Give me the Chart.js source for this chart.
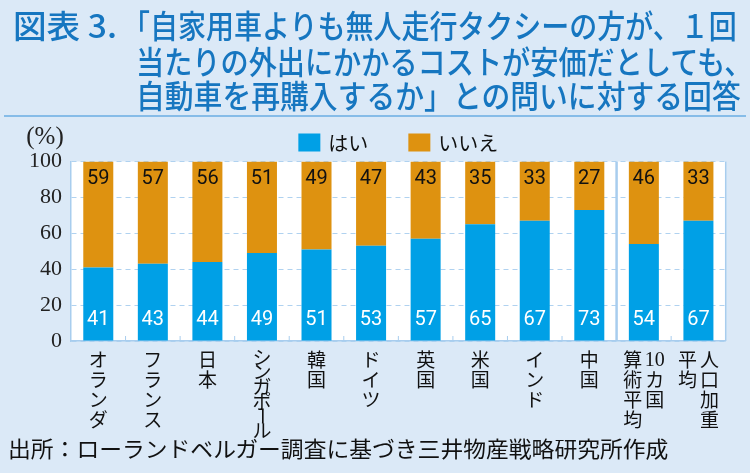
<!DOCTYPE html>
<html>
<head>
<meta charset="utf-8">
<script src="https://cdn.jsdelivr.net/npm/chart.js@4.4.0/dist/chart.umd.min.js"></script>
<style>
html, body { margin: 0; padding: 0; }
body { width: 750px; height: 473px; background: #dbe9f7; position: relative; overflow: hidden; font-family: "Noto Sans CJK JP", sans-serif; }
#wrap { position: absolute; left: 0; top: 0; width: 750px; height: 473px; }
.tl { position: absolute; color: #1676c0; font-size: 32px; line-height: 32px; font-weight: 500; white-space: nowrap; transform-origin: 0 0; }
#rule { position: absolute; left: 4px; top: 115px; width: 742px; height: 2px; background: #86bce8; }
#src { position: absolute; left: 8px; top: 436px; font-size: 22px; line-height: 22px; color: #111; white-space: nowrap; transform-origin: 0 0; }
</style>
</head>
<body>
<div id="wrap"><canvas id="chart"></canvas></div>
<div class="tl" data-w="104" style="left:13px;top:8px">図表 3.</div>
<div class="tl" data-w="615" style="left:122px;top:8px">「自家用車よりも無人走行タクシーの方が、１回</div>
<div class="tl" data-w="616" style="left:136px;top:44px">当たりの外出にかかるコストが安価だとしても、</div>
<div class="tl" data-w="605" style="left:136px;top:78px">自動車を再購入するか」との問いに対する回答</div>
<div id="rule"></div>
<div id="src" data-w="660">出所：ローランドベルガー調査に基づき三井物産戦略研究所作成</div>
<script>
// 横に詰めて幅を合わせる
document.querySelectorAll('[data-w]').forEach(function (el) {
    let w = parseFloat(el.dataset.w);
    el.style.transform = 'scaleX(' + (w / el.offsetWidth) + ')';
});

let categories = [['オランダ'], ['フランス'], ['日本'], ['シンガポール'], ['韓国'], ['ドイツ'], ['英国'], ['米国'], ['インド'], ['中国'], ['10カ国', '算術平均'], ['人口加重', '平均']];
let yesValues = [41, 43, 44, 49, 51, 53, 57, 65, 67, 73, 54, 67];
let noValues = [59, 57, 56, 51, 49, 47, 43, 35, 33, 27, 46, 33];
let yTicks = [0, 20, 40, 60, 80, 100];
let seriesNames = ['はい', 'いいえ'];

let blue = '#00a0e6';
let orange = '#de9210';
let gridColor = '#b0d2f0';

let decor = {
    id: 'decor',
    beforeDraw: function (chart) {
        let ctx = chart.ctx, a = chart.chartArea;
        ctx.save();
        ctx.fillStyle = '#fff';
        ctx.fillRect(a.left, a.top, a.right - a.left, a.bottom - a.top);
        ctx.restore();
    },
    afterDatasetsDraw: function (chart) {
        let ctx = chart.ctx;
        ctx.save();
        ctx.font = '20px Roboto';
        ctx.textAlign = 'center';
        ctx.textBaseline = 'middle';
        chart.getDatasetMeta(0).data.forEach(function (bar, i) {
            ctx.fillStyle = '#fff';
            ctx.fillText(String(yesValues[i]), bar.x, bar.base - 21);
        });
        chart.getDatasetMeta(1).data.forEach(function (bar, i) {
            ctx.fillStyle = '#111';
            ctx.fillText(String(noValues[i]), bar.x, bar.y + 17);
        });
        ctx.restore();
    },
    afterDraw: function (chart) {
        let ctx = chart.ctx, a = chart.chartArea, x = chart.scales.x;
        let step = x.getPixelForValue(1) - x.getPixelForValue(0);
        ctx.save();
        // right border + separator + small ticks
        ctx.strokeStyle = '#a8cdee';
        ctx.lineWidth = 1.5;
        ctx.beginPath();
        ctx.moveTo(a.right, a.top); ctx.lineTo(a.right, a.bottom);
        ctx.stroke();
        let sep = x.getPixelForValue(9) + step / 2;
        ctx.lineWidth = 2.5;
        ctx.beginPath();
        ctx.moveTo(sep, a.top); ctx.lineTo(sep, a.bottom);
        ctx.stroke();
        ctx.lineWidth = 1;
        for (let i = 0; i < categories.length - 1; i++) {
            if (i === 9) continue;
            let bx = x.getPixelForValue(i) + step / 2;
            ctx.beginPath();
            ctx.moveTo(bx, a.bottom); ctx.lineTo(bx, a.bottom - 5);
            ctx.stroke();
        }

        // legend
        ctx.font = '20px "Noto Sans CJK JP"';
        ctx.textBaseline = 'middle';
        ctx.textAlign = 'left';
        let items = chart.data.datasets.map(function (d) {
            return { text: d.label, color: d.backgroundColor, w: ctx.measureText(d.label).width };
        });
        let boxW = 22, boxH = 18, gapText = 8, gapItem = 40;
        let total = 0;
        items.forEach(function (it, i) { total += boxW + gapText + it.w + (i ? gapItem : 0); });
        let lx = (a.left + a.right) / 2 - total / 2;
        let ly = a.top - 19;
        items.forEach(function (it) {
            ctx.fillStyle = it.color;
            ctx.fillRect(lx, ly - boxH / 2, boxW, boxH);
            ctx.fillStyle = '#111';
            ctx.fillText(it.text, lx + boxW + gapText, ly + 1);
            lx += boxW + gapText + it.w + gapItem;
        });

        // (%)
        ctx.font = '25px "Liberation Serif"';
        ctx.textAlign = 'center';
        ctx.fillStyle = '#222';
        ctx.fillText('(%)', 45, a.top - 24);

        // vertical category labels (right column first)
        ctx.fillStyle = '#111';
        categories.forEach(function (cols, i) {
            let cx = x.getPixelForValue(i);
            cols.forEach(function (col, j) {
                let colX = cols.length === 1 ? cx : cx + (j === 0 ? 11 : -11);
                let tokens = col.match(/[0-9]+|./g);
                let adv = Math.min(20, 88 / tokens.length);
                tokens.forEach(function (t, k) {
                    let cy = a.bottom + 9 + adv * (k + 0.5);
                    if (t === 'ー') {
                        ctx.save();
                        ctx.font = '19px "Noto Sans CJK JP"';
                        ctx.translate(colX, cy);
                        ctx.rotate(Math.PI / 2);
                        ctx.fillText(t, 0, 0);
                        ctx.restore();
                    } else if (/^[0-9]+$/.test(t)) {
                        ctx.font = '20px "Liberation Serif"';
                        ctx.fillText(t, colX, cy + 1);
                    } else {
                        ctx.font = '19px "Noto Sans CJK JP"';
                        ctx.fillText(t, colX, cy);
                    }
                });
            });
        });
        ctx.restore();
    }
};

let chart = new Chart(document.getElementById('chart'), {
    type: 'bar',
    data: {
        labels: categories.map(function (c) { return c.join(''); }),
        datasets: [
            { label: seriesNames[0], data: yesValues, backgroundColor: blue, barPercentage: 0.55, categoryPercentage: 1.0 },
            { label: seriesNames[1], data: noValues, backgroundColor: orange, barPercentage: 0.55, categoryPercentage: 1.0 }
        ]
    },
    options: {
        responsive: true,
        maintainAspectRatio: false,
        animation: false,
        layout: { padding: { left: 0, top: 161.5, right: 24.3, bottom: 132 } },
        plugins: { legend: { display: false }, tooltip: { enabled: false } },
        scales: {
            x: {
                stacked: true,
                ticks: { display: false },
                grid: { display: false, drawTicks: false },
                border: { color: '#a8cdee', width: 1.5 },
                afterFit: function (s) { s.height = 0; }
            },
            y: {
                stacked: true,
                min: 0,
                max: 100,
                afterBuildTicks: function (s) { s.ticks = yTicks.map(function (v) { return { value: v }; }); },
                ticks: { font: { family: 'Liberation Serif', size: 22 }, color: '#222', padding: 9 },
                grid: { color: gridColor, lineWidth: 1, drawTicks: false },
                border: { color: '#a8cdee', width: 1.5, dash: [5, 4] },
                afterFit: function (s) { s.width = 71; }
            }
        }
    },
    plugins: [decor]
});
</script>
</body>
</html>
